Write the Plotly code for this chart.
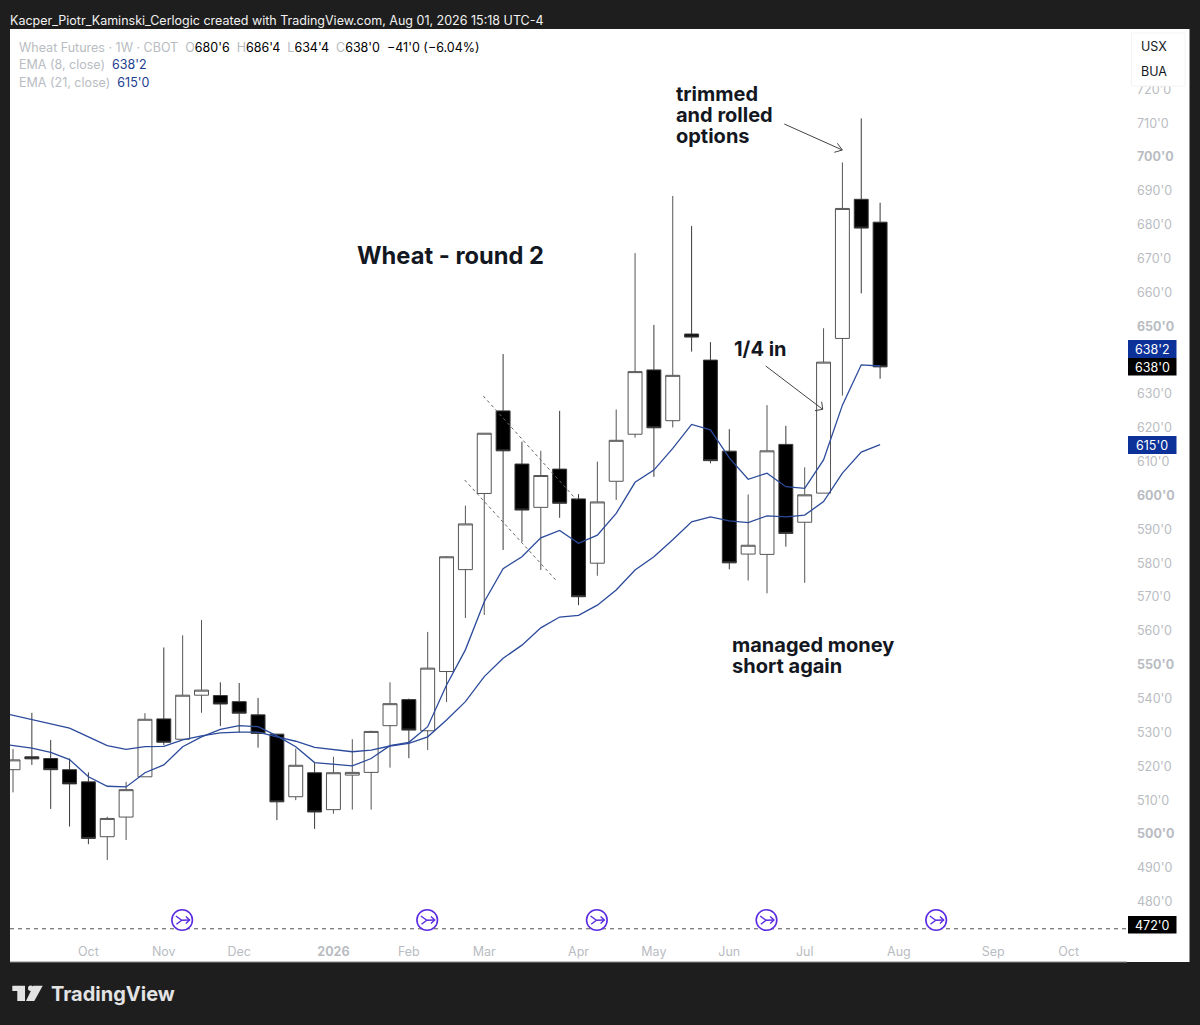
import plotly.graph_objects as go

# ---------- data ----------
week_index = list(range(47))
open_ = [519.0,522.8,522.3,519.0,515.4,499.2,505.0,516.9,534.0,528.0,541.0,540.9,539.1,535.2,529.5,511.0,518.1,507.2,517.4,518.2,532.0,539.7,
         530.5,548.0,578.1,600.6,625.0,609.3,596.5,607.8,599.0,580.0,604.2,618.1,637.1,622.1,647.7,640.0,613.1,582.7,582.6,615.1,592.1,600.7,646.4,687.5,680.75]
high = [525.1,535.8,527.8,522.3,518.2,505.1,515.4,535.7,555.1,558.7,563.2,544.8,544.6,540.2,529.5,525.2,521.1,522.8,528.0,530.5,544.8,540.0,
        559.7,582.1,597.0,618.4,641.8,615.9,613.2,625.0,600.4,610.0,625.4,671.6,650.4,688.5,679.6,645.3,619.6,600.3,626.7,620.6,608.3,649.4,698.4,711.4,686.5]
low = [512.3,520.4,507.4,502.2,497.0,492.3,498.2,516.9,526.3,528.0,535.8,531.9,530.0,525.5,504.1,510.0,501.5,506.0,507.2,507.2,519.6,522.4,
       524.8,539.0,563.8,564.7,583.9,586.3,578.0,593.4,567.6,576.3,598.7,617.1,605.5,620.1,642.5,609.5,578.2,574.9,571.1,584.9,574.2,600.7,629.5,659.7,634.5]
close = [521.9,522.2,519.0,514.8,498.7,504.6,513.1,533.9,527.1,541.0,542.5,538.4,535.7,529.7,509.5,520.3,506.5,518.1,518.2,530.3,538.5,530.7,
         549.0,581.9,591.6,618.4,613.2,595.7,605.9,597.7,570.1,598.1,616.3,636.6,620.0,635.5,646.8,610.3,580.1,585.3,613.2,588.8,600.2,639.4,684.8,679.0,638.0]
# EMA values start one week before the first visible candle
ema8 = [526.9,526.2,525.4,524.1,522.0,516.9,514.1,513.9,518.1,520.4,525.8,528.7,530.9,532.0,531.7,529.0,525.8,521.1,520.6,520.1,522.3,526.1,527.1,531.7,
        544.0,554.4,568.6,578.4,581.9,587.5,589.7,585.9,588.3,594.7,603.9,607.5,613.9,621.0,619.4,611.1,604.8,606.6,602.6,602.1,610.5,626.7,638.6,638.25]
ema21 = [536.3,535.1,533.9,532.5,531.3,528.7,526.1,525.0,525.8,525.9,527.8,529.0,529.9,530.1,530.1,528.7,527.4,525.6,524.9,524.3,524.8,526.0,526.8,528.7,
         533.7,539.1,546.5,551.9,555.8,560.9,564.1,564.6,567.6,572.1,578.0,581.9,586.9,592.2,593.7,592.5,592.0,594.0,593.7,594.2,598.2,606.6,612.8,615.0]
month_ticks = [4, 8, 12, 17, 21, 25, 30, 34, 38, 42, 47, 52, 56]
month_labels = ["Oct", "Nov", "Dec", "<b>2026</b>", "Feb", "Mar", "Apr", "May", "Jun", "Jul", "Aug", "Sep", "Oct"]
price_ticks = [p for p in range(480, 721, 10) if p != 640]
price_labels = [(f"<b>{p}'0</b>" if p % 50 == 0 else f"{p}'0") for p in price_ticks]
event_weeks = [9, 22, 31, 40, 49]
support_price = 472

# ---------- layout constants ----------
W, H = 1200, 1025
L, R, T, B = 10, 1127, 29, 940
X0, DX = 13, 18.85      # first candle pixel, pixels per week
PY700, PYU = 157, 3.385  # pixel of 700, pixels per unit
px_x = lambda i: X0 + DX * i
px_y = lambda p: PY700 + (700 - p) * PYU
fx = lambda x: x / W
fy = lambda y: 1 - y / H
GRAY = "#b9bcc2"
BLUE = "#0c3299"
INK = "#131722"
PURPLE = "#5a2be0"
FONT = "Inter, Liberation Sans, sans-serif"

shapes, annos = [], []


def rect(x0, y0, x1, y1, fill, line=None, layer="below"):
    shapes.append(dict(type="rect", xref="paper", yref="paper", x0=fx(x0), x1=fx(x1), y0=fy(y1), y1=fy(y0),
                       fillcolor=fill, line=dict(color=line or fill, width=1 if line else 0), layer=layer))


def seg(points, color, width=1, dash="solid", closed=False, fill=None):
    d = "M" + " L".join(f"{fx(x):.5f},{fy(y):.5f}" for x, y in points) + (" Z" if closed else "")
    s = dict(type="path", xref="paper", yref="paper", path=d, line=dict(color=color, width=width, dash=dash), layer="above")
    if fill:
        s["fillcolor"] = fill
    shapes.append(s)


def text(x, y, s, size=13, color=INK, anchor="left", font=FONT):
    # annotation boxes carry 2px of padding, so left-anchored text is pulled back by it
    ax = x - 2 if anchor == "left" else x
    annos.append(dict(xref="paper", yref="paper", x=fx(ax), y=fy(y), text=s, showarrow=False, xanchor=anchor, yanchor="middle",
                      align="left", font=dict(size=size, color=color, family=font)))


# white panel
rect(10, 29, 1189.5, 962, "#ffffff")
seg([(10, 962), (1127, 962)], "#8a8a8a", 1)

# price tags
for y0, y1, x, fill, label in [(340, 358, 1128, BLUE, "638'2"), (358, 375.5, 1128, "#000000", "638'0"),
                               (436, 454, 1128, BLUE, "615'0"), (916, 933.5, 1128, "#000000", "472'0")]:
    rect(x, y0, 1176.5, y1, fill, layer="above")
    text(1152.3, (y0 + y1) / 2 + 0.5, label, 12.5, "#ffffff", "center")

# USX / BUA box
rect(1131.5, 33, 1185, 86, "#ffffff", "#f4f4f4", layer="above")
text(1141, 46, "USX", 12.5, "#131722")
text(1141, 71.5, "BUA", 12.5, "#131722")

# dashed trend lines
seg([(483.3, 396), (576.7, 500)], "#666666", 1, "3px,3px")
seg([(464.7, 480), (557.3, 581.7)], "#666666", 1, "3px,3px")
# arrows
seg([(784.3, 124), (842.3, 150)], "#444444", 1)
seg([(837.3, 143.3), (842.3, 150), (834.3, 152.3)], "#444444", 1)
seg([(765.7, 366), (822.7, 409.3)], "#444444", 1)
seg([(821.7, 401.7), (822.7, 409.3), (815, 410.7)], "#444444", 1)

# event icons on the time line
for w in event_weeks:
    cx, cy = px_x(w) - 0.5, 920
    r = 10.3
    shapes.append(dict(type="circle", xref="paper", yref="paper", x0=fx(cx - r), x1=fx(cx + r), y0=fy(cy + r), y1=fy(cy - r),
                       line=dict(color=PURPLE, width=1.6), fillcolor="#ffffff", layer="above"))
    seg([(cx - 6.3, cy - 4), (cx - 0.5, cy + 0.3), (cx - 5.7, cy + 4.3)], PURPLE, 1.4)
    seg([(cx - 0.5, cy + 0.3), (cx + 7.5, cy)], PURPLE, 1.4)
    seg([(cx + 3.7, cy - 3.4), (cx + 7.5, cy), (cx + 3.7, cy + 3.4)], PURPLE, 1.4)

# logo
LOGO = "#e3e3e3"
seg([(12.3, 985.7), (25, 985.7), (25, 1001), (17.3, 1001), (17.3, 991), (12.3, 991)], LOGO, 0, closed=True, fill=LOGO)
seg([(33.3, 985.7), (42.7, 985.7), (34.3, 1001), (26, 1001)], LOGO, 0, closed=True, fill=LOGO)
shapes.append(dict(type="circle", xref="paper", yref="paper", x0=fx(28), x1=fx(33.4), y0=fy(991), y1=fy(985.6),
                   fillcolor=LOGO, line=dict(width=0), layer="above"))
text(51, 993.5, "<b>TradingView</b>", 20, LOGO)

# header and legend texts
text(10, 20, "Kacper_Piotr_Kaminski_Cerlogic created with TradingView.com, Aug 01, 2026 15:18 UTC-4", 12.5, "#f2f2f2")
text(19, 47, f"<span style='color:{GRAY}'>Wheat Futures · 1W · CBOT  O</span>680'6  <span style='color:{GRAY}'>H</span>686'4  "
             f"<span style='color:{GRAY}'>L</span>634'4  <span style='color:{GRAY}'>C</span>638'0  −41'0 (−6.04%)", 12.5, "#000000")
text(19, 64.5, f"<span style='color:{GRAY}'>EMA (8, close)</span>  638'2", 12.5, "#1c3d8f")
text(19, 82.5, f"<span style='color:{GRAY}'>EMA (21, close)</span>  615'0", 12.5, "#1c3d8f")

# chart notes
text(357, 255, "<b>Wheat - round 2</b>", 23.7)
text(676, 94.5, "<b>trimmed</b>", 20)
text(676, 115.5, "<b>and rolled</b>", 20)
text(676, 136, "<b>options</b>", 20)
text(734, 349, "<b>1/4 in</b>", 20)
text(732, 644.5, "<b>managed money</b>", 20)
text(732, 665.5, "<b>short again</b>", 20)

fig = go.Figure()
fig.add_trace(go.Candlestick(
    x=week_index, open=open_, high=high, low=low, close=close,
    increasing=dict(line=dict(color="#555555", width=1), fillcolor="#ffffff"),
    decreasing=dict(line=dict(color="#3a3a3a", width=1), fillcolor="#000000"),
    whiskerwidth=0, hoverinfo="skip", showlegend=False))
ema_x = [i - 1 for i in range(len(ema8))]
fig.add_trace(go.Scatter(x=ema_x, y=ema21, mode="lines", line=dict(color="#2b4a9b", width=1.3), hoverinfo="skip", showlegend=False))
fig.add_trace(go.Scatter(x=ema_x, y=ema8, mode="lines", line=dict(color="#2b4a9b", width=1.3), hoverinfo="skip", showlegend=False))
fig.add_trace(go.Scatter(x=[(L - X0) / DX, (R - X0) / DX], y=[support_price, support_price], mode="lines",
                         line=dict(color="#555555", width=1, dash="4px,4px"), hoverinfo="skip", showlegend=False))

fig.update_layout(
    width=W, height=H, autosize=False, margin=dict(l=0, r=0, t=0, b=0),
    paper_bgcolor="#1e1e1e", plot_bgcolor="#ffffff", boxgap=0.15, boxgroupgap=0.13,
    shapes=shapes, annotations=annos, showlegend=False, font=dict(family=FONT),
    xaxis=dict(domain=[fx(L), fx(R)], range=[(L - X0) / DX, (R - X0) / DX], tickmode="array", tickvals=month_ticks, ticktext=month_labels,
               showgrid=False, zeroline=False, showline=False, ticks="", rangeslider=dict(visible=False),
               tickfont=dict(size=12.5, color=GRAY, family=FONT), ticklabelstandoff=2, fixedrange=True),
    yaxis=dict(domain=[fy(B), fy(T)], range=[700 - (B - PY700) / PYU, 700 + (PY700 - T) / PYU], side="right", tickmode="array",
               tickvals=price_ticks, ticktext=price_labels, showgrid=False, zeroline=False, showline=False, ticks="",
               tickfont=dict(size=12.5, color=GRAY, family=FONT), ticklabelstandoff=9, fixedrange=True),
)
fig.write_html("out.html", config={"displayModeBar": False}, post_script="document.body.style.margin='0';document.body.style.overflow='hidden';")
